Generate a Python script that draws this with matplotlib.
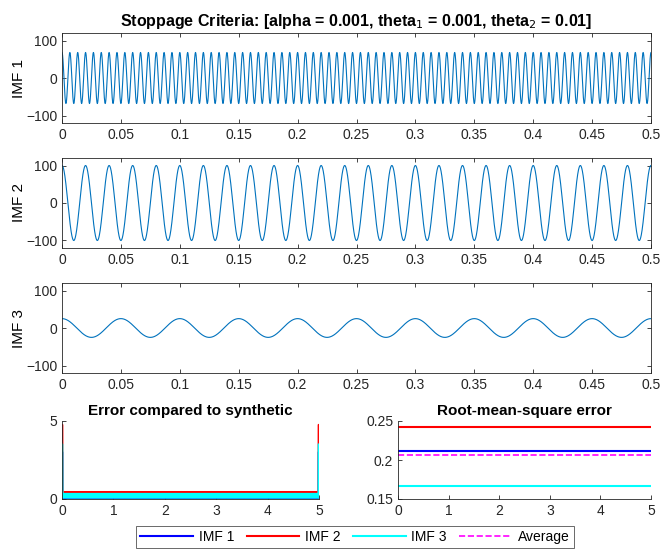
import matplotlib
matplotlib.use("Agg")
import matplotlib.pyplot as plt
import numpy as np

plt.rcParams['font.family'] = ['Liberation Sans', 'DejaVu Sans']

# values
imf_names = ['IMF 1', 'IMF 2', 'IMF 3']
imf_amplitude = [68, 100, 25]        # peak value of each IMF
imf_frequency = [150, 50, 20]        # cycles per unit of time
time_end = 0.5
time_ticks = [0, 0.05, 0.1, 0.15, 0.2, 0.25, 0.3, 0.35, 0.4, 0.45, 0.5]

err_edge = [3.0, 4.75, 3.5]          # error spike at both ends
err_band = [0.30, 0.45, 0.33]        # height of the error band in the middle
err_cycles = 60
rms_values = [0.2115, 0.2425, 0.1665]
rms_average = 0.2068
err_colors = ['#0000ff', '#ff0000', '#00ffff']

W, H = 664, 549
line_blue = '#0072bd'
axis_gray = '#262626'


def rect(left, top, right, bottom):
    return [left / W, 1 - bottom / H, (right - left) / W, (bottom - top) / H]


def style(ax):
    for s in ax.spines.values():
        s.set_color(axis_gray)
        s.set_linewidth(0.6)
    ax.tick_params(direction='in', length=3, width=0.6, colors=axis_gray,
                   labelcolor='#262626', labelsize=10, top=True, right=True)


fig = plt.figure(figsize=(W / 100, H / 100), dpi=100)

t = np.linspace(0, time_end, 6001)
tops = [33, 158, 283]
for i in range(3):
    ax = fig.add_axes(rect(62, tops[i], 651, tops[i] + 90))
    y = imf_amplitude[i] * np.cos(2 * np.pi * imf_frequency[i] * t)
    ax.plot(t, y, color=line_blue, linewidth=0.8)
    ax.set_xlim(0, time_end)
    ax.set_ylim(-120, 120)
    ax.set_xticks(time_ticks)
    ax.set_xticklabels([f'{v:g}' for v in time_ticks])
    ax.set_yticks([-100, 0, 100])
    ax.set_ylabel(imf_names[i], fontsize=11, labelpad=0)
    style(ax)
    if i == 0:
        ax.set_title('Stoppage Criteria: [alpha = 0.001, theta$_1$ = 0.001, theta$_2$ = 0.01]',
                     fontsize=11.5, fontweight='bold', pad=5)

# error compared to synthetic
x = np.linspace(0, 5, 1501)
ax4 = fig.add_axes(rect(62, 421, 319, 499))
for i in range(3):
    err = err_band[i] * np.abs(np.cos(np.pi * err_cycles * x))
    err[:3] = err_edge[i]
    err[-3:] = err_edge[i]
    ax4.plot(x, err, color=err_colors[i], linewidth=1.5)
ax4.set_xlim(0, 5)
ax4.set_ylim(0, 5)
ax4.set_xticks([0, 1, 2, 3, 4, 5])
ax4.set_yticks([0, 5])
ax4.set_title('Error compared to synthetic', fontsize=11, fontweight='bold', pad=4)
style(ax4)
ax4.tick_params(top=False, right=False)
ax4.spines['top'].set_visible(False)
ax4.spines['right'].set_visible(False)

# root-mean-square error
ax5 = fig.add_axes(rect(398, 421, 651, 499))
xr = [0, 5]
handles = []
for i in range(3):
    h, = ax5.plot(xr, [rms_values[i]] * 2, color=err_colors[i], linewidth=1.5, label=imf_names[i])
    handles.append(h)
h, = ax5.plot(xr, [rms_average] * 2, color='#ff00ff', linewidth=1.2, linestyle='--', label='Average')
handles.append(h)
ax5.set_xlim(0, 5)
ax5.set_ylim(0.15, 0.25)
ax5.set_xticks([0, 1, 2, 3, 4, 5])
ax5.set_yticks([0.15, 0.2, 0.25])
ax5.set_yticklabels(['0.15', '0.2', '0.25'])
ax5.set_title('Root-mean-square error', fontsize=11, fontweight='bold', pad=4)
style(ax5)
ax5.tick_params(top=False, right=False)
ax5.spines['top'].set_visible(False)
ax5.spines['right'].set_visible(False)

leg = fig.legend(handles=handles, loc='center', bbox_to_anchor=(355 / W, 1 - 537 / H),
                 ncol=4, fontsize=10, frameon=True, fancybox=False, edgecolor=axis_gray,
                 handlelength=3.8, columnspacing=0.9, handletextpad=0.4, borderpad=0.3)
leg.get_frame().set_linewidth(0.6)

fig.savefig('out.png', dpi=100)
